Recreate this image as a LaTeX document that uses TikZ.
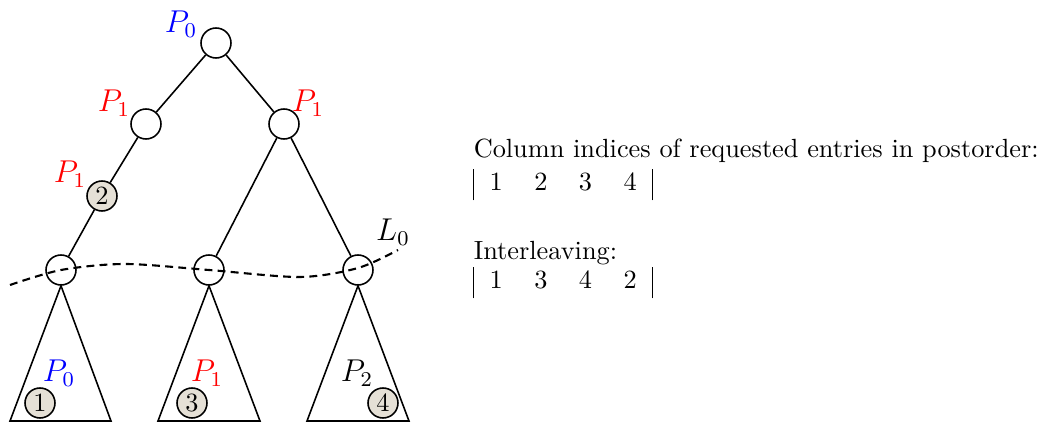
\documentclass[tikz,border=0pt]{standalone}
\usepackage{xcolor}

\definecolor{entryfill}{RGB}{229,224,214}
\newcommand\idxrow[4]{\begin{tabular}{|cccc|}#1 & #2 & #3 & #4\end{tabular}}

\begin{document}
\begin{tikzpicture}[x=0.3802pt,y=-0.3802pt]
\tikzstyle{every path}+=[semithick]
\tikzstyle{vertex}=[draw, circle, minimum size=11.4pt, inner sep=1pt]
\tikzstyle{entry}=[vertex, fill=entryfill]
\tikzstyle{owner}=[font=\large]
\tikzstyle{txt}=[inner sep=0pt]

\useasboundingbox (0,0) rectangle (1046,425);

% tree
\node (root) at (216,43)  [vertex] {};
\node (lft)  at (146,124) [vertex] {};
\node (rgt)  at (284,124) [vertex] {};
\node (e2)   at (102,196) [entry]  {2};
\node (sa)   at (61,270)  [vertex] {};
\node (sb)   at (209,270) [vertex] {};
\node (sc)   at (358,270) [vertex] {};

\path (root) edge (lft)
             edge (rgt)
      (lft)  edge (e2)
      (e2)   edge (sa)
      (rgt)  edge (sb)
             edge (sc);

% subtrees
\coordinate (a1) at (10,421);  \coordinate (a2) at (111,421);
\coordinate (b1) at (158,421); \coordinate (b2) at (260,421);
\coordinate (c1) at (307,421); \coordinate (c2) at (409,421);
\draw (sa.south) -- (a1) -- (a2) -- cycle;
\draw (sb.south) -- (b1) -- (b2) -- cycle;
\draw (sc.south) -- (c1) -- (c2) -- cycle;

\node (e1) at (40,403)  [entry] {1};
\node (e3) at (192,403) [entry] {3};
\node (e4) at (383,403) [entry] {4};

% owners
\node (p0)  at (181,24)  [owner, blue] {$P_0$};
\node (p1a) at (114,103) [owner, red]  {$P_1$};
\node (p1b) at (308,103) [owner, red]  {$P_1$};
\node (p1c) at (70,174)  [owner, red]  {$P_1$};
\node (q0)  at (59,373)  [owner, blue] {$P_0$};
\node (q1)  at (207,373) [owner, red]  {$P_1$};
\node (q2)  at (357,373) [owner]       {$P_2$};

% layer
\draw[thick, dash pattern=on 3pt off 2pt] plot[smooth] coordinates
  {(10,285) (61,270) (125,264) (209,270) (300,277) (358,268) (398,250)};
\node (l0) at (393,232) [owner] {$L_0$};

% orderings
\node (colhead) at (473,158) [txt, anchor=base west] {Column indices of requested entries in postorder:};
\node (colseq)  at (473,168) [txt, anchor=north west] {\idxrow1234};
\node (ilhead)  at (473,260) [txt, anchor=base west] {Interleaving:};
\node (ilseq)   at (473,266) [txt, anchor=north west] {\idxrow1342};
\end{tikzpicture}
\end{document}
